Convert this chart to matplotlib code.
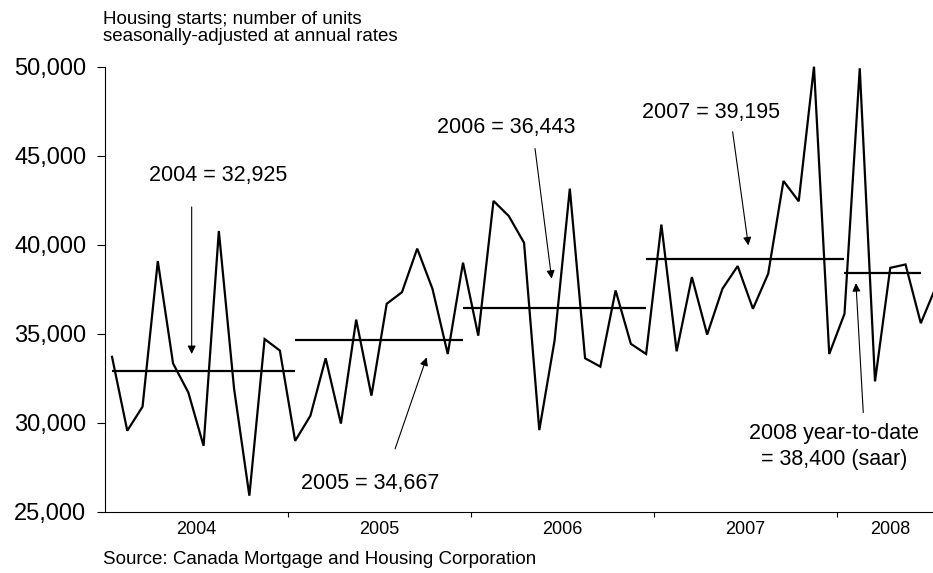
import numpy as np
import matplotlib
matplotlib.use('Agg')
import matplotlib.pyplot as plt
from matplotlib.ticker import FixedLocator, FuncFormatter

plt.rcParams['font.family'] = ['Liberation Sans', 'DejaVu Sans']

# monthly housing starts, Jan 2004 .. Jul 2008 (saar)
starts = [
    33700, 29550, 30900, 39080, 33330, 31700, 28700, 40770, 31900, 25900, 34700, 34050,  # 2004
    28980, 30390, 33620, 29950, 35790, 31520, 36680, 37330, 39780, 37520, 33860, 38990,  # 2005
    34890, 42460, 41610, 40110, 29580, 34610, 43150, 33620, 33150, 37430, 34430, 33860,  # 2006
    41130, 34010, 38180, 34950, 37520, 38800, 36400, 38370, 43580, 42440, 50000, 33860,  # 2007
    36120, 49910, 32320, 38700, 38890, 35590, 37650,                                     # 2008
]
years = ['2004', '2005', '2006', '2007', '2008']

# annual averages and the months they are drawn across
avg_values = [32925, 34667, 36443, 39195, 38400]
avg_start = [0, 12, 23, 35, 48]
avg_end = [12, 23, 35, 48, 53]
avg_labels = ['2004 = 32,925', '2005 = 34,667', '2006 = 36,443',
              '2007 = 39,195', '2008 year-to-date\n= 38,400 (saar)']

x = np.arange(len(starts))

fig = plt.figure(figsize=(9.33, 5.73), dpi=100)
ax = fig.add_axes([105 / 933, 1 - 511.7 / 573, 1 - 105 / 933, (511.7 - 66.7) / 573])

ax.plot(x, starts, color='black', lw=1.6, clip_on=False, solid_joinstyle='miter')
for v, a, b in zip(avg_values, avg_start, avg_end):
    ax.hlines(v, a, b, color='black', lw=1.6)

# annotations: (text position, arrow tail, arrow head)
notes = [
    ((6.95, 43900), (5.22, 42120), (5.22, 33860)),
    ((16.9, 26610), (18.55, 28530), (20.62, 33670)),
    ((25.85, 46600), (27.72, 45400), (28.81, 38090)),
    ((39.25, 47450), (40.67, 46340), (41.7, 39960)),
    ((47.31, 28650), (49.23, 30575), (48.75, 37840)),
]
for lab, (tpos, tail, head) in zip(avg_labels, notes):
    ax.text(tpos[0], tpos[1], lab, ha='center', va='center', fontsize=15.5,
            linespacing=1.3)
    ax.annotate('', xy=head, xytext=tail,
                arrowprops=dict(arrowstyle='-|>', color='black', lw=0.8,
                                mutation_scale=12, shrinkA=0, shrinkB=0))

ax.set_xlim(-0.46, 53.8)
ax.set_ylim(25000, 50000)
ax.set_yticks(np.arange(25000, 50001, 5000))
ax.yaxis.set_major_formatter(FuncFormatter(lambda v, p: f'{v:,.0f}'))
ax.tick_params(axis='y', direction='out', length=6, width=0.8, pad=7.5, labelsize=17)

bounds = [12 * i - 0.5 for i in range(len(years))]
centers = [12 * i + 5.5 for i in range(len(years) - 1)] + [(bounds[-1] + len(starts) - 0.5) / 2]
ax.xaxis.set_major_locator(FixedLocator(bounds))
ax.xaxis.set_minor_locator(FixedLocator(centers))
ax.set_xticklabels([], minor=False)
ax.set_xticklabels(years, minor=True)
ax.tick_params(axis='x', which='major', direction='out', length=3.5, width=0.8)
ax.tick_params(axis='x', which='minor', length=0, pad=7, labelsize=13)

for s in ['top', 'right']:
    ax.spines[s].set_visible(False)
for s in ['left', 'bottom']:
    ax.spines[s].set_linewidth(0.8)

fig.text(103 / 933, 1 - 28 / 573, 'Housing starts; number of units\nseasonally-adjusted at annual rates',
         ha='left', va='center', fontsize=13.5, linespacing=1.05)
fig.text(103 / 933, 1 - 559 / 573, 'Source: Canada Mortgage and Housing Corporation',
         ha='left', va='center', fontsize=13.5)

fig.savefig('out.png', dpi=100)
